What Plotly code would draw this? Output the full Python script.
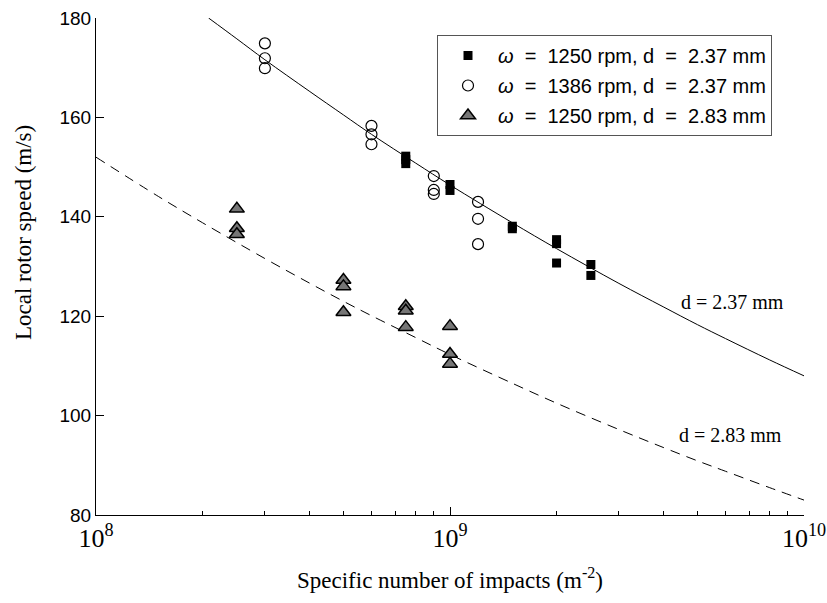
import plotly.graph_objects as go

# ---- data ----
sq_x = [7.5e8, 7.5e8, 7.5e8, 1.0e9, 1.0e9, 1.5e9, 1.5e9, 2.0e9, 2.0e9, 2.0e9, 2.5e9, 2.5e9]
sq_y = [152.2, 151.5, 150.7, 146.5, 145.3, 138.1, 137.6, 135.4, 134.6, 130.7, 130.4, 128.2]

ci_x = [3e8, 3e8, 3e8, 6e8, 6e8, 6e8, 9e8, 9e8, 9e8, 1.2e9, 1.2e9, 1.2e9]
ci_y = [174.9, 171.9, 169.9, 158.3, 156.6, 154.6, 148.2, 145.4, 144.6, 143.0, 139.6, 134.5]

tr_x = [2.5e8, 2.5e8, 2.5e8, 5e8, 5e8, 5e8, 7.5e8, 7.5e8, 7.5e8, 1e9, 1e9, 1e9]
tr_y = [141.6, 137.7, 136.5, 127.3, 126.0, 120.8, 122.0, 121.1, 117.8, 118.0, 112.4, 110.4]

fit1_x = [2.08e8, 2.5e8, 3e8, 4e8, 5e8, 6e8, 8e8, 1e9, 1.5e9, 2e9, 3e9, 4e9, 5e9, 6e9, 8e9, 1e10]
fit1_y = [180.0, 175.8, 171.6, 165.3, 160.5, 156.6, 150.8, 146.4, 138.8, 133.6, 126.6, 121.9, 118.3, 115.5, 111.2, 108.0]

fit2_x = [1e8, 1.5e8, 2e8, 3e8, 4e8, 5e8, 6e8, 8e8, 1e9, 1.5e9, 2e9, 3e9, 4e9, 5e9, 6e9, 8e9, 1e10]
fit2_y = [152.0, 144.1, 138.8, 131.6, 126.7, 123.0, 120.1, 115.7, 112.3, 106.5, 102.5, 97.2, 93.6, 90.9, 88.8, 85.5, 83.0]

names = ["<i>ω</i>  =  1250 rpm, d  =  2.37 mm",
         "<i>ω</i>  =  1386 rpm, d  =  2.37 mm",
         "<i>ω</i>  =  1250 rpm, d  =  2.83 mm"]

x_tickvals = [1e8, 1e9, 1e10]
x_ticktext = ["10<sup>8</sup>", "10<sup>9</sup>", "10<sup>10</sup>"]
x_minor = [k * 1e8 for k in range(2, 10)] + [k * 1e9 for k in range(2, 10)]
y_tickvals = [80, 100, 120, 140, 160, 180]

SERIF = "Liberation Serif, Times New Roman, serif"
SANS = "Liberation Sans, Arial, sans-serif"

fig = go.Figure()

fig.add_trace(go.Scatter(x=fit1_x, y=fit1_y, mode="lines", line=dict(color="black", width=1, shape="spline"),
                         showlegend=False, hoverinfo="skip"))
fig.add_trace(go.Scatter(x=fit2_x, y=fit2_y, mode="lines",
                         line=dict(color="black", width=1, dash="10px,7px", shape="spline"),
                         showlegend=False, hoverinfo="skip"))

fig.add_trace(go.Scatter(x=sq_x, y=sq_y, mode="markers", name=names[0], legendgroup="a",
                         marker=dict(symbol="square", size=9, color="black", line=dict(width=0))))
fig.add_trace(go.Scatter(x=ci_x, y=ci_y, mode="markers", name=names[1], legendgroup="b",
                         marker=dict(symbol="circle-open", size=11, color="black", line=dict(width=1.2))))
fig.add_trace(go.Scatter(x=tr_x, y=tr_y, mode="markers", name=names[2], legendgroup="c",
                         marker=dict(symbol="triangle-up", size=13, color="#767676",
                                     line=dict(width=1.5, color="black"))))

fig.add_annotation(x=(679 - 96) / 708, y=(515 - 302) / 497, xref="paper", yref="paper", text="d = 2.37 mm",
                   showarrow=False, xanchor="left", yanchor="middle",
                   font=dict(family=SERIF, size=20, color="black"))
fig.add_annotation(x=(677 - 96) / 708, y=(515 - 435) / 497, xref="paper", yref="paper", text="d = 2.83 mm",
                   showarrow=False, xanchor="left", yanchor="middle",
                   font=dict(family=SERIF, size=20, color="black"))
fig.add_annotation(x=-72 / 708, y=(515 - 233) / 497, xref="paper", yref="paper",
                   text="Local rotor speed (m/s)", textangle=-90, showarrow=False,
                   xanchor="center", yanchor="middle",
                   font=dict(family=SERIF, size=23, color="black"))
fig.add_annotation(x=(450 - 96) / 708, y=-(578 - 515) / 497, xref="paper", yref="paper",
                   text="Specific number of impacts (m<sup>-2</sup>)", showarrow=False,
                   xanchor="center", yanchor="middle",
                   font=dict(family=SERIF, size=23, color="black"))

fig.update_xaxes(type="log", range=[8, 10], showline=True, linecolor="black", linewidth=1,
                 mirror=False, showgrid=False, zeroline=False, automargin=False,
                 tickvals=x_tickvals, ticktext=x_ticktext, ticks="inside", ticklen=8,
                 tickcolor="black", tickwidth=1,
                 tickfont=dict(family=SERIF, size=26, color="black"),
                 minor=dict(tickvals=x_minor, ticks="inside", ticklen=4, tickcolor="black",
                            tickwidth=1, showgrid=False))
fig.update_yaxes(range=[80, 180], showline=True, linecolor="black", linewidth=1,
                 mirror=False, showgrid=False, zeroline=False, automargin=False,
                 tickvals=y_tickvals, ticks="inside", ticklen=8, tickcolor="black", tickwidth=1,
                 tickfont=dict(family=SANS, size=19, color="black"))

fig.update_layout(
    width=827, height=603,
    margin=dict(l=96, r=23, t=18, b=88, autoexpand=False),
    plot_bgcolor="white", paper_bgcolor="white",
    legend=dict(x=(437 - 96) / 708, y=(515 - 35) / 497, xanchor="left", yanchor="top",
                bordercolor="#555555", borderwidth=1, bgcolor="white",
                itemwidth=50, tracegroupgap=1,
                font=dict(family=SANS, size=20, color="black")),
)

fig.write_html("out.html")
